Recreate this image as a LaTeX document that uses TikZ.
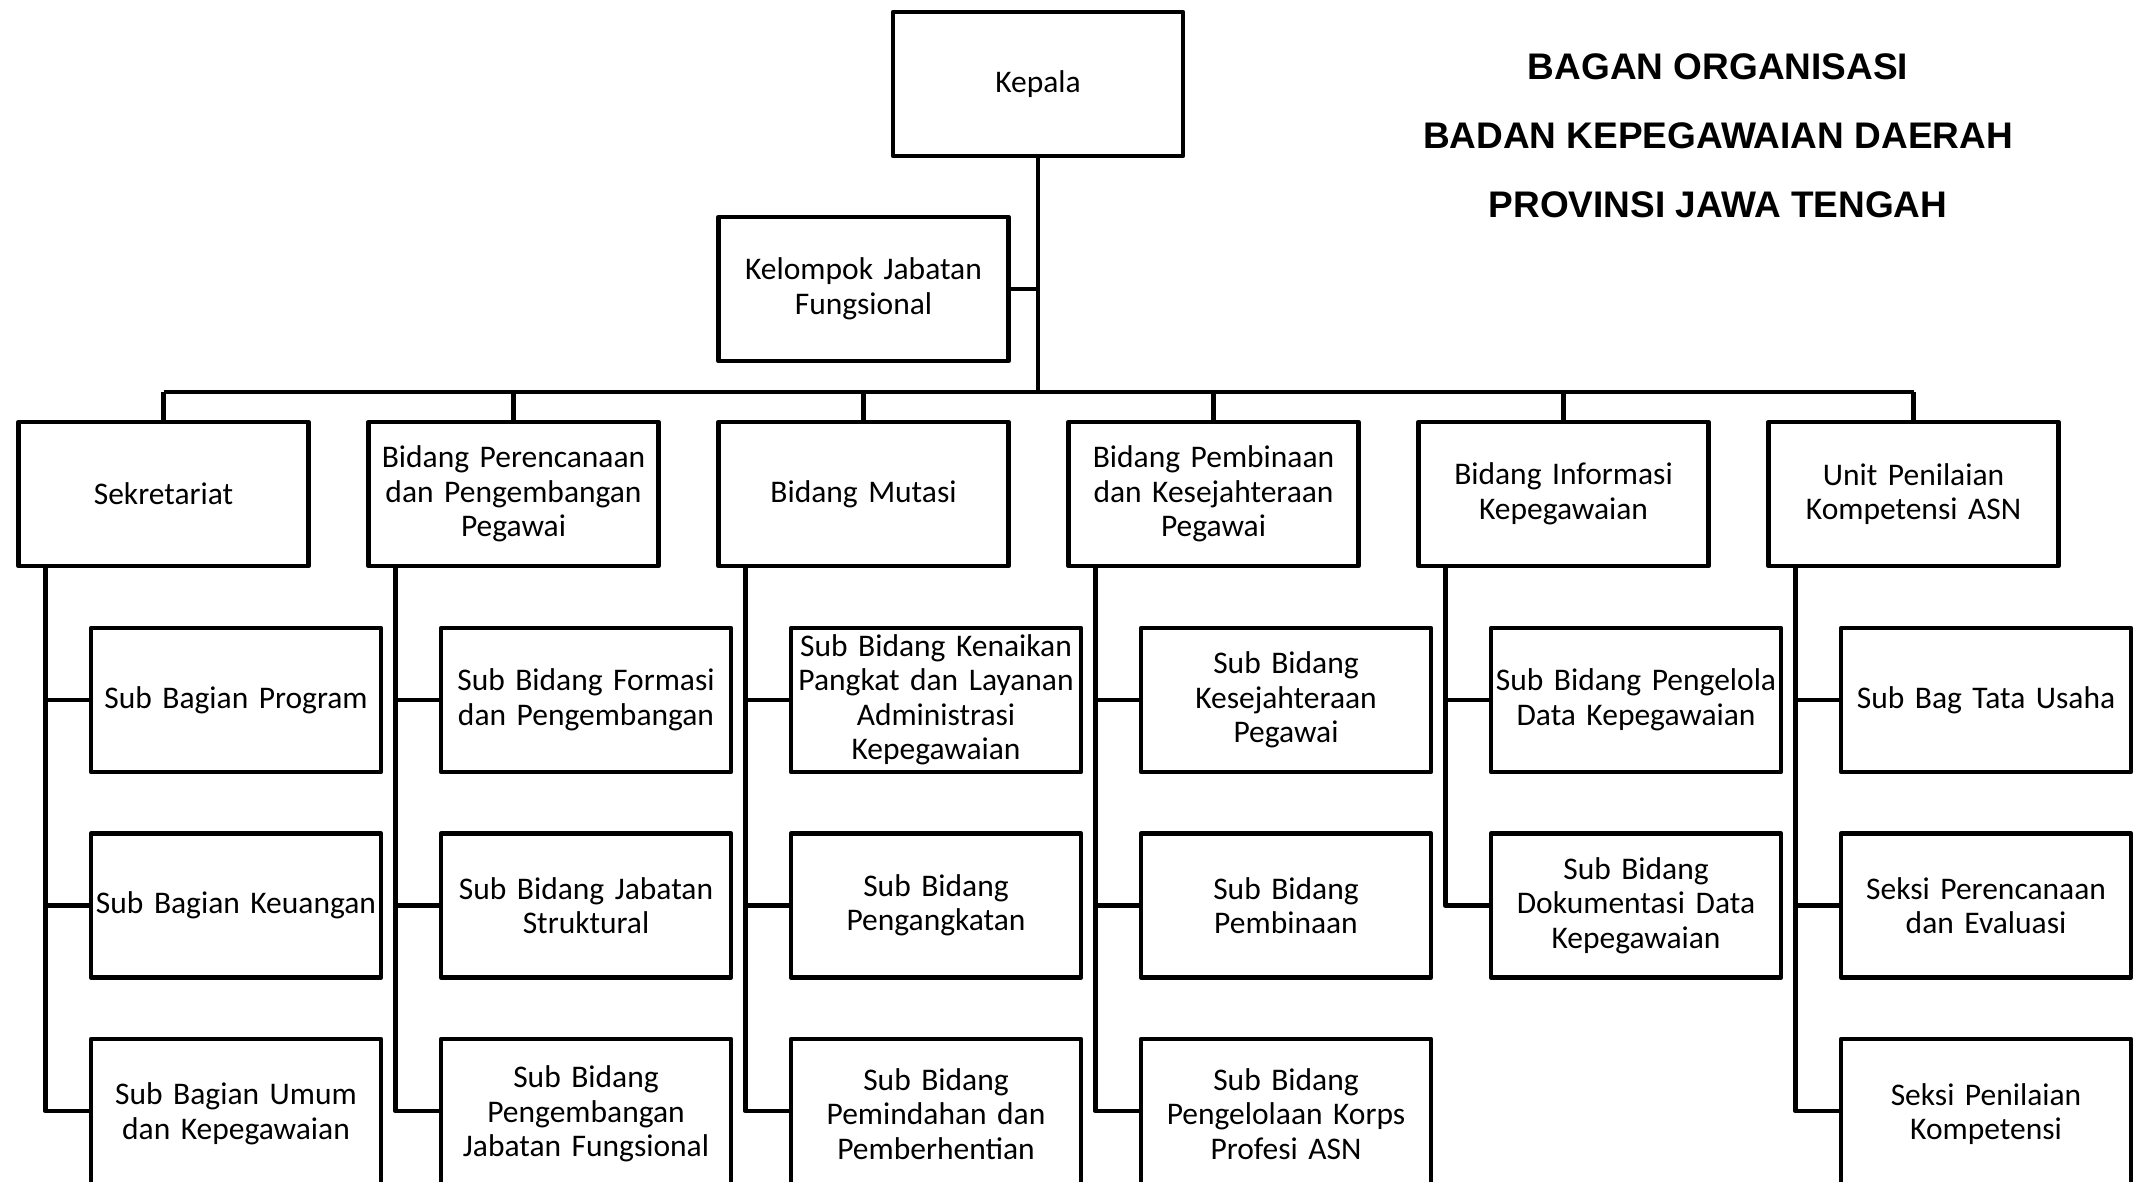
\documentclass[tikz,border=0pt]{standalone}
\usepackage{fontspec}
\setmainfont{Carlito}
\newfontfamily\titlefont{Liberation Sans}
\tikzset{
  box/.style={draw, line width=4.6pt, line join=round, minimum width=290pt, minimum height=144pt,
    inner sep=0pt, text width=288pt, align=center, font=\fontsize{31.5}{34.5}\selectfont},
  lowbox/.style={box, minimum height=150pt},
  conn/.style={line width=4.6pt, line join=round},
  ttl/.style={anchor=base, inner sep=0pt, font=\titlefont\bfseries\fontsize{37}{40}\selectfont}
}
\begin{document}
\begin{tikzpicture}[x=1pt, y=-1pt]
\useasboundingbox (0,0) rectangle (2135,1182);
% title
\node[ttl] (t1) at (1718,80) {BAGAN ORGANISASI};
\node[ttl] (t2) at (1718,149) {BADAN KEPEGAWAIAN DAERAH};
\node[ttl] (t3) at (1718,218) {PROVINSI JAWA TENGAH};
% top
\node[box] (kep) at (1038,84) {Kepala};
\node[box] (kjf) at (863.5,289) {Kelompok Jabatan\\Fungsional};
% columns
\node[box] (c0) at (163.5,494) {Sekretariat};
\node[box] (c1) at (513.5,494) {Bidang Perencanaan\\dan Pengembangan\\Pegawai};
\node[box] (c2) at (863.5,494) {Bidang Mutasi};
\node[box] (c3) at (1213.5,494) {Bidang Pembinaan\\dan Kesejahteraan\\Pegawai};
\node[box] (c4) at (1563.5,494) {Bidang Informasi\\Kepegawaian};
\node[box] (c5) at (1913.5,494) {Unit Penilaian\\Kompetensi ASN};
% sub boxes
\node[box] (s0a) at (236,700) {Sub Bagian Program};
\node[box] (s0b) at (236,905.5) {Sub Bagian Keuangan};
\node[lowbox] (s0c) at (236,1114) {Sub Bagian Umum\\dan Kepegawaian};
\node[box] (s1a) at (586,700) {Sub Bidang Formasi\\dan Pengembangan};
\node[box] (s1b) at (586,905.5) {Sub Bidang Jabatan\\Struktural};
\node[lowbox] (s1c) at (586,1114) {Sub Bidang\\Pengembangan\\Jabatan Fungsional};
\node[box] (s2a) at (936,700) {Sub Bidang Kenaikan\\Pangkat dan Layanan\\Administrasi\\Kepegawaian};
\node[box] (s2b) at (936,905.5) {Sub Bidang\\Pengangkatan};
\node[lowbox] (s2c) at (936,1114) {Sub Bidang\\Pemindahan dan\\Pemberhentian};
\node[box] (s3a) at (1286,700) {Sub Bidang\\Kesejahteraan\\Pegawai};
\node[box] (s3b) at (1286,905.5) {Sub Bidang\\Pembinaan};
\node[lowbox] (s3c) at (1286,1114) {Sub Bidang\\Pengelolaan Korps\\Profesi ASN};
\node[box] (s4a) at (1636,700) {Sub Bidang Pengelola\\Data Kepegawaian};
\node[box] (s4b) at (1636,905.5) {Sub Bidang\\Dokumentasi Data\\Kepegawaian};
\node[box] (s5a) at (1986,700) {Sub Bag Tata Usaha};
\node[box] (s5b) at (1986,905.5) {Seksi Perencanaan\\dan Evaluasi};
\node[lowbox] (s5c) at (1986,1114) {Seksi Penilaian\\Kompetensi};
% bus
\coordinate (busL) at (163.5,392);
\coordinate (busR) at (1913.5,392);
\draw[conn] (busL) -- (busR);
\draw[conn] (kep.south) -- (kep.south |- busL);
\draw[conn] (kjf.east) -- (kjf.east -| kep.south);
\foreach \c in {c0,c1,c2,c3,c4,c5}{
  \draw[conn] (\c.north) -- (\c.north |- busL);
  \coordinate (\c t) at ([xshift=29pt]\c.south west);
}
% branches
\draw[conn] (c0t) |- ([yshift=3pt]s0c.west);
\draw[conn] (s0a.west) -- (s0a.west -| c0t);
\draw[conn] (s0b.west) -- (s0b.west -| c0t);
\draw[conn] (c1t) |- ([yshift=3pt]s1c.west);
\draw[conn] (s1a.west) -- (s1a.west -| c1t);
\draw[conn] (s1b.west) -- (s1b.west -| c1t);
\draw[conn] (c2t) |- ([yshift=3pt]s2c.west);
\draw[conn] (s2a.west) -- (s2a.west -| c2t);
\draw[conn] (s2b.west) -- (s2b.west -| c2t);
\draw[conn] (c3t) |- ([yshift=3pt]s3c.west);
\draw[conn] (s3a.west) -- (s3a.west -| c3t);
\draw[conn] (s3b.west) -- (s3b.west -| c3t);
\draw[conn] (c4t) |- (s4b.west);
\draw[conn] (s4a.west) -- (s4a.west -| c4t);
\draw[conn] (c5t) |- ([yshift=3pt]s5c.west);
\draw[conn] (s5a.west) -- (s5a.west -| c5t);
\draw[conn] (s5b.west) -- (s5b.west -| c5t);
\end{tikzpicture}
\end{document}
